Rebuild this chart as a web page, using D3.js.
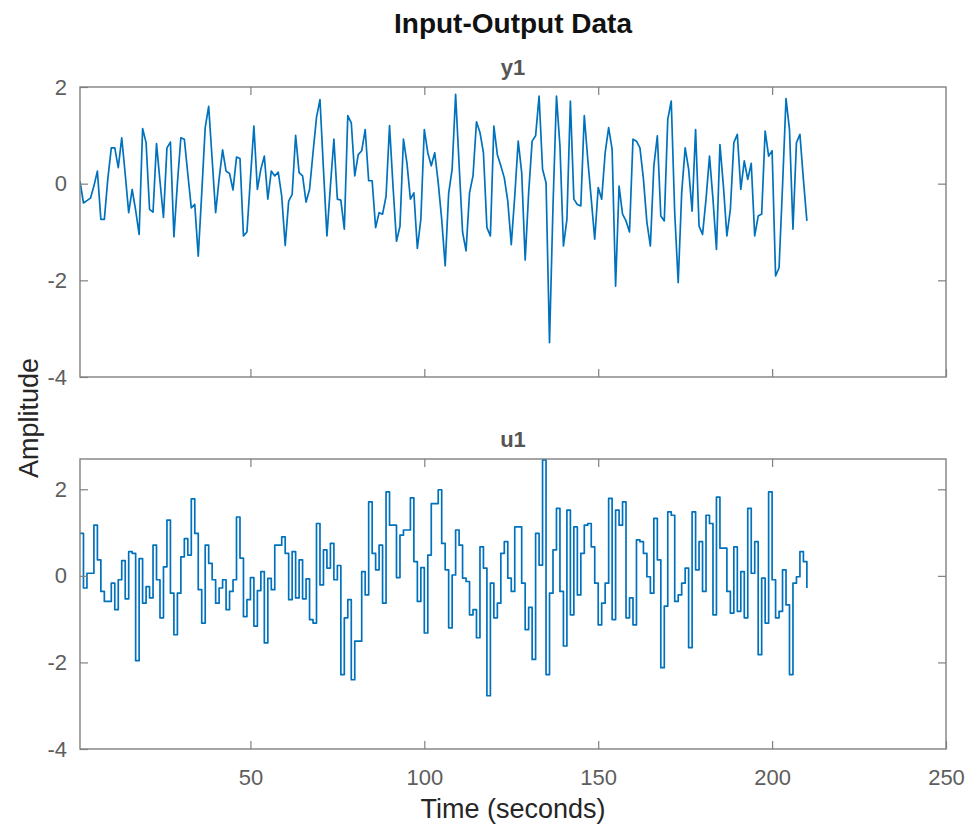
<!DOCTYPE html>
<html>
<head>
<meta charset="utf-8">
<script src="https://cdn.jsdelivr.net/npm/d3@7"></script>
<style>
  body { margin: 0; background: #fff; }
  text { font-family: "Liberation Sans", Arial, Helvetica, sans-serif; }
</style>
</head>
<body>
<div id="chart"></div>
<script>
// Output y1, one sample per second starting at t = 1
const y1Values = [
  0.05, -0.4, -0.35, -0.3, -0.05, 0.26, -0.74, -0.74, 0.1, 0.74,
  0.74, 0.33, 0.95, 0.2, -0.6, -0.12, -0.55, -1.05, 1.14, 0.85,
  -0.53, -0.59, 0.83, 0.05, -0.7, 0.74, 0.86, -1.1, 0.0, 0.95,
  0.92, 0.2, -0.5, -0.43, -1.5, -0.2, 1.16, 1.6, 0.5, -0.6,
  0.1, 0.7, 0.26, 0.21, -0.13, 0.55, 0.52, -1.08, -1.0, 0.1,
  1.19, -0.12, 0.3, 0.57, -0.32, 0.26, 0.16, 0.24, -0.26, -1.28,
  -0.36, -0.22, 1.0, 0.23, 0.16, -0.38, -0.12, 0.64, 1.37, 1.74,
  0.3, -1.08, -0.05, 0.92, -0.32, -0.34, -0.94, 1.41, 1.26, 0.16,
  0.6, 0.68, 1.12, 0.06, 0.06, -0.91, -0.6, -0.63, -0.26, 1.2,
  -0.05, -1.19, -0.88, 0.92, 0.43, -0.32, -0.19, -1.34, -0.74, 1.12,
  0.64, 0.37, 0.64, 0.02, -0.74, -1.7, -0.2, 0.3, 1.85, 0.4,
  -1.0, -1.39, -0.19, 0.16, 1.28, 1.06, 0.64, -0.91, -1.08, 1.19,
  0.6, 0.37, 0.12, -0.36, -1.26, -0.26, 0.88, 0.23, -1.58, -0.19,
  0.88, 0.99, 1.81, 0.3, 0.02, -3.29, -0.46, 1.81, 0.78, -1.29,
  -0.74, 1.71, -0.32, -0.43, -0.46, 1.41, 0.5, -0.32, -1.15, -0.08,
  -0.32, 0.64, 1.16, 0.71, -2.12, -0.05, -0.63, -0.77, -1.0, 0.92,
  0.88, 0.74, 0.1, -0.8, -1.29, 0.37, 0.99, -0.67, -0.77, 1.33,
  1.71, -0.6, -2.05, -0.19, 0.74, 0.3, -0.57, 1.12, -0.88, -1.05,
  -0.32, 0.57, -0.32, -1.36, 0.81, -0.05, -1.08, -0.53, 0.85, 1.02,
  -0.12, 0.47, 0.09, 0.42, -1.08, -0.67, -0.63, 1.09, 0.57, 0.68,
  -1.91, -1.74, -0.05, 1.76, 1.12, -0.94, 0.85, 1.02, 0.09, -0.77
];

// Input u1 (held between samples, drawn as stairs)
const u1Values = [
  0.98, -0.28, 0.06, 0.06, 1.17, 0.37, -0.36, -0.59, -0.59, -0.17,
  -0.78, -0.09, 0.35, -0.53, 0.56, 0.52, -1.96, 0.4, -0.63, -0.25,
  -0.51, 0.71, -0.09, -0.97, 0.21, 1.29, -0.4, -1.36, -0.4, 0.44,
  0.86, 0.48, 1.78, 0.98, -0.32, -1.09, 0.71, 0.29, -0.09, -0.63,
  -0.28, -0.09, -0.78, -0.36, -0.09, 1.36, 0.41, -0.94, -0.55, -0.04,
  -1.16, -0.34, 0.1, -1.55, -0.06, -0.32, 0.71, 0.71, 0.9, 0.52,
  -0.55, 0.56, -0.51, 0.37, -0.53, -0.07, -1.01, -1.09, 1.21, -0.21,
  0.6, 0.18, 0.75, -0.09, 0.24, -2.28, -0.97, -0.55, -2.4, -1.51,
  -1.51, 0.1, -0.44, 1.71, 0.52, 0.14, 0.71, -0.63, 1.94, 1.17,
  1.17, -0.04, 0.94, 1.06, 1.06, 1.8, 0.33, -0.59, 0.19, -1.32,
  0.48, 1.67, 1.67, 1.99, 0.75, 0.14, -1.2, 0.02, 1.06, 0.71,
  -0.05, -0.13, -0.9, -0.78, -1.43, 0.67, 0.18, -2.77, -0.17, -0.97,
  -0.63, 0.52, 0.79, -0.05, -0.36, 1.13, 1.13, -0.17, -1.24, -0.73,
  -1.93, 0.98, 0.25, 2.68, -2.28, -0.4, 0.6, 1.56, -0.36, -1.62,
  1.52, -0.9, 1.13, -0.44, 0.52, 1.17, 1.21, 0.67, -0.17, -1.13,
  -0.63, -0.17, 1.79, -1.01, 1.52, 1.17, 1.71, -0.97, -0.51, -1.13,
  0.83, 0.79, 0.52, -0.02, -0.4, 1.33, 0.37, -2.12, -0.7, 1.48,
  1.4, -0.59, -0.44, -0.17, 0.18, -1.66, 1.48, 0.14, 0.79, -0.36,
  1.4, 1.21, -0.9, 1.82, 0.64, 0.64, -0.36, -0.86, 0.67, -0.82,
  0.1, -0.97, 1.56, 0.06, 0.79, -1.82, -0.05, -1.09, 1.94, -0.09,
  -0.97, -0.82, 0.14, -0.67, -2.28, -0.17, -0.02, 0.56, 0.33, -0.28
];

const startTime = 1;
const timeTicks = [50, 100, 150, 200, 250];
const ampTicks = [-4, -2, 0, 2];
const timeDomain = [1, 250];
const y1Domain = [-4, 2];
const u1Domain = [-4, 2.7];

const width = 969, height = 830;
const left = 80, right = 946;
const lineColor = "#0072BD";
const axisColor = "#808080";
const tickText = "#5e5e5e";

// plain hyphen minus like MATLAB, not the unicode minus d3.format gives
const plainNum = d => String(d);

const svg = d3.select("#chart").append("svg")
  .attr("width", width)
  .attr("height", height);

const x = d3.scaleLinear().domain(timeDomain).range([left, right]);

function drawPanel(values, yDomain, top, bottom, name, stairs, showTimeLabels) {
  const y = d3.scaleLinear().domain(yDomain).range([bottom, top]);
  const data = values.map((v, i) => ({ t: startTime + i, v: v }));

  const clipId = "clip-" + name;
  svg.append("clipPath").attr("id", clipId)
    .append("rect")
    .attr("x", left).attr("y", top)
    .attr("width", right - left).attr("height", bottom - top);

  const line = d3.line()
    .x(d => x(d.t))
    .y(d => y(d.v))
    .curve(stairs ? d3.curveStepAfter : d3.curveLinear);

  svg.append("path")
    .datum(data)
    .attr("clip-path", `url(#${clipId})`)
    .attr("fill", "none")
    .attr("stroke", lineColor)
    .attr("stroke-width", 1.7)
    .attr("stroke-linejoin", "round")
    .attr("d", line);

  // axes, ticks pointing in on all four sides
  const gl = svg.append("g")
    .attr("transform", `translate(${left},0)`)
    .call(d3.axisLeft(y).tickValues(ampTicks).tickSize(-8).tickPadding(13).tickFormat(plainNum));
  const gr = svg.append("g")
    .attr("transform", `translate(${right},0)`)
    .call(d3.axisRight(y).tickValues(ampTicks.filter(t => t > yDomain[0] && t < yDomain[1])).tickSize(-8).tickFormat(""));
  const gb = svg.append("g")
    .attr("transform", `translate(0,${bottom})`)
    .call(d3.axisBottom(x).tickValues(timeTicks).tickSize(-8).tickPadding(20)
      .tickFormat(showTimeLabels ? plainNum : ""));
  const gt = svg.append("g")
    .attr("transform", `translate(0,${top})`)
    .call(d3.axisTop(x).tickValues(timeTicks.filter(t => t < timeDomain[1])).tickSize(-8).tickFormat(""));

  [gl, gr, gb, gt].forEach(g => {
    g.select(".domain").remove();
    g.selectAll(".tick line").attr("stroke", axisColor).attr("stroke-width", 1.2);
    g.selectAll(".tick text")
      .attr("fill", tickText)
      .style("font-size", "22px")
      .style("font-family", "'Liberation Sans', Arial, sans-serif");
  });

  svg.append("rect")
    .attr("x", left).attr("y", top)
    .attr("width", right - left).attr("height", bottom - top)
    .attr("fill", "none")
    .attr("stroke", axisColor)
    .attr("stroke-width", 1.4);

  svg.append("text")
    .attr("x", (left + right) / 2)
    .attr("y", top - 12)
    .attr("text-anchor", "middle")
    .attr("fill", "#555")
    .style("font-size", "22px")
    .style("font-weight", "bold")
    .text(name);
}

drawPanel(y1Values, y1Domain, 87, 377, "y1", false, false);
drawPanel(u1Values, u1Domain, 459, 749, "u1", true, true);

// Figure title and shared labels
svg.append("text")
  .attr("x", (left + right) / 2)
  .attr("y", 33)
  .attr("text-anchor", "middle")
  .attr("fill", "#111")
  .style("font-size", "28px")
  .style("font-weight", "bold")
  .text("Input-Output Data");

svg.append("text")
  .attr("transform", "rotate(-90)")
  .attr("x", -418)
  .attr("y", 38)
  .attr("text-anchor", "middle")
  .attr("fill", "#262626")
  .style("font-size", "27px")
  .text("Amplitude");

svg.append("text")
  .attr("x", (left + right) / 2)
  .attr("y", 818)
  .attr("text-anchor", "middle")
  .attr("fill", "#262626")
  .style("font-size", "27px")
  .text("Time (seconds)");
</script>
</body>
</html>
